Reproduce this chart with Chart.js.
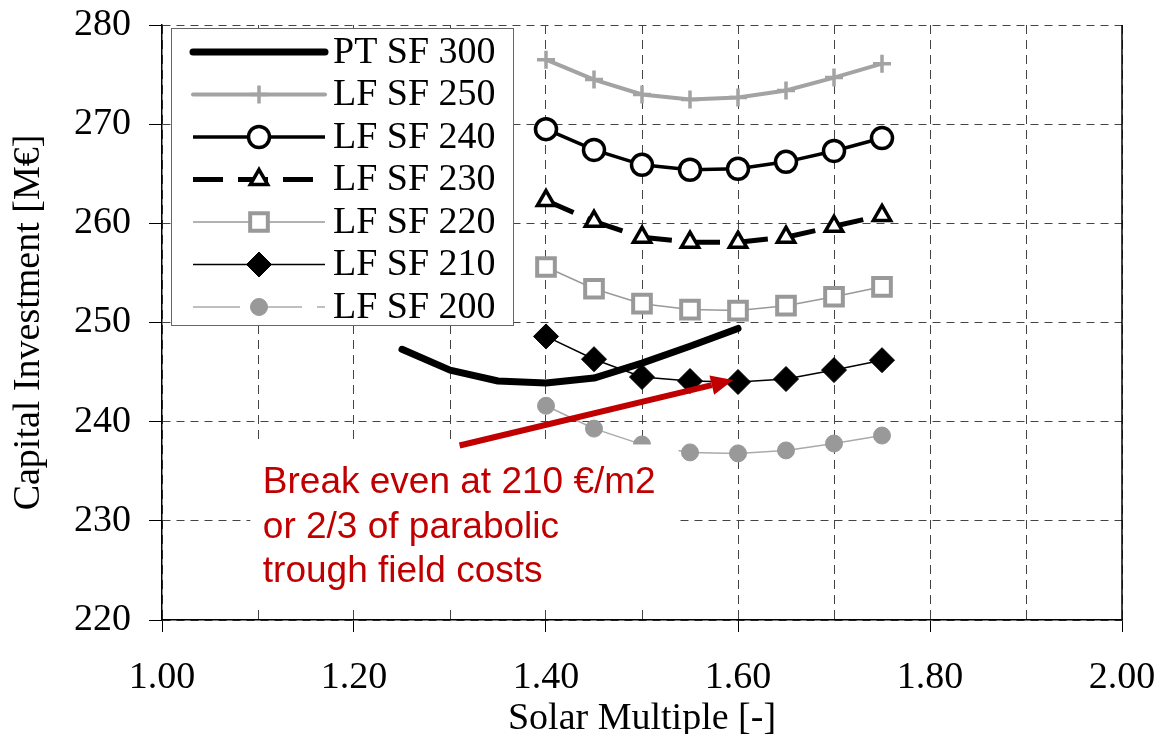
<!DOCTYPE html>
<html>
<head>
<meta charset="utf-8">
<script src="https://cdn.jsdelivr.net/npm/chart.js"></script>
<style>
  body { margin: 0; background: #fff; }
  canvas { display: block; }
</style>
</head>
<body>
<canvas id="smChart" width="1160" height="734"></canvas>
<script>
// solar multiple values
const smPT = [1.25, 1.30, 1.35, 1.40, 1.45, 1.50, 1.55, 1.60];
const smLF = [1.40, 1.45, 1.50, 1.55, 1.60, 1.65, 1.70, 1.75];

// capital investment [M€]
const pt300 = [247.3, 245.2, 244.1, 243.9, 244.4, 245.9, 247.6, 249.4];
const lf250 = [276.5, 274.5, 273.0, 272.5, 272.7, 273.4, 274.7, 276.1];
const lf240 = [269.5, 267.4, 265.9, 265.4, 265.5, 266.2, 267.3, 268.6];
const lf230 = [262.3, 260.2, 258.6, 258.1, 258.1, 258.6, 259.7, 260.8];
const lf220 = [255.6, 253.4, 251.9, 251.3, 251.2, 251.7, 252.6, 253.6];
const lf210 = [248.6, 246.3, 244.5, 244.1, 244.0, 244.3, 245.2, 246.2];
const lf200 = [241.6, 239.3, 237.7, 236.9, 236.8, 237.1, 237.8, 238.6];

const yTicks = [220, 230, 240, 250, 260, 270, 280];
const xLabels = ['1.00', '1.20', '1.40', '1.60', '1.80', '2.00'];

const noteLines = ['Break even at 210 €/m2', 'or 2/3 of parabolic', 'trough field costs'];

const serif = 'Liberation Serif';
const red = '#c00000';

const pts = (xs, ys) => xs.map((x, i) => ({ x: x, y: ys[i] }));
// Excel restarts the dash pattern on every segment
const restartDash = { borderDashOffset: c => c.p0DataIndex * 0.001 };

const datasets = [
  { label: 'PT SF 300', data: pts(smPT, pt300), borderColor: '#000', borderWidth: 7,
    borderCapStyle: 'round', borderJoinStyle: 'round', pointRadius: 0, legendCap: 'round' },
  { label: 'LF SF 250', data: pts(smLF, lf250), borderColor: '#a3a3a3', borderWidth: 4,
    pointStyle: 'cross', pointRadius: 9, pointBorderWidth: 3.5, pointBorderColor: '#a3a3a3', legendCap: 'round' },
  { label: 'LF SF 240', data: pts(smLF, lf240), borderColor: '#000', borderWidth: 3.5,
    pointStyle: 'circle', pointRadius: 10.5, pointBorderWidth: 3.5, pointBorderColor: '#000', pointBackgroundColor: '#fff' },
  { label: 'LF SF 230', data: pts(smLF, lf230), borderColor: '#000', borderWidth: 5, borderDash: [30, 15],
    segment: restartDash,
    pointStyle: 'triangle', pointRadius: 10, pointBorderWidth: 3.5, pointBorderColor: '#000', pointBackgroundColor: '#fff' },
  { label: 'LF SF 220', data: pts(smLF, lf220), borderColor: '#999', borderWidth: 1.5,
    pointStyle: 'rect', pointRadius: 12.5, pointBorderWidth: 4, pointBorderColor: '#999', pointBackgroundColor: '#fff' },
  { label: 'LF SF 210', data: pts(smLF, lf210), borderColor: '#000', borderWidth: 1.5,
    pointStyle: 'rectRot', pointRadius: 12.5, pointBorderWidth: 1, pointBorderColor: '#000', pointBackgroundColor: '#000' },
  { label: 'LF SF 200', data: pts(smLF, lf200), borderColor: '#aaa', borderWidth: 1.5, borderDash: [47, 15],
    segment: restartDash,
    pointStyle: 'circle', pointRadius: 8.5, pointBorderWidth: 1, pointBorderColor: '#999', pointBackgroundColor: '#999' }
];

// white note box, red note + arrow, legend box inside the plot
const overlay = {
  id: 'overlay',
  afterDatasetsDraw(chart) {
    const { ctx, chartArea: area, scales: { x, y } } = chart;
    ctx.save();

    // right border of the plot
    ctx.strokeStyle = '#000';
    ctx.lineWidth = 1.5;
    ctx.beginPath();
    ctx.moveTo(area.right, area.top);
    ctx.lineTo(area.right, area.bottom);
    ctx.stroke();

    // white background behind note
    ctx.fillStyle = '#fff';
    const bx1 = x.getPixelForValue(1.092), bx2 = x.getPixelForValue(1.538);
    const by1 = y.getPixelForValue(237.7), by2 = y.getPixelForValue(221.3);
    ctx.fillRect(bx1, by1, bx2 - bx1, by2 - by1);

    // note text
    ctx.fillStyle = red;
    ctx.font = '37px "Liberation Sans"';
    ctx.textAlign = 'left';
    ctx.textBaseline = 'alphabetic';
    const tx = x.getPixelForValue(1.105);
    const ty = y.getPixelForValue(232.8);
    noteLines.forEach((line, i) => ctx.fillText(line, tx, ty + i * 44.5));

    // arrow
    const ax1 = x.getPixelForValue(1.31), ay1 = y.getPixelForValue(237.6);
    const ax2 = x.getPixelForValue(1.595), ay2 = y.getPixelForValue(244.2);
    const ang = Math.atan2(ay2 - ay1, ax2 - ax1);
    const headLen = 22, headW = 10;
    const hx = ax2 - headLen * Math.cos(ang), hy = ay2 - headLen * Math.sin(ang);
    ctx.strokeStyle = red;
    ctx.lineWidth = 6;
    ctx.beginPath();
    ctx.moveTo(ax1, ay1);
    ctx.lineTo(hx, hy);
    ctx.stroke();
    ctx.beginPath();
    ctx.moveTo(ax2, ay2);
    ctx.lineTo(hx + headW * Math.sin(ang), hy - headW * Math.cos(ang));
    ctx.lineTo(hx - headW * Math.sin(ang), hy + headW * Math.cos(ang));
    ctx.closePath();
    ctx.fill();

    // legend
    const lx = area.left + 9, ly = area.top + 3, lw = 342, lh = 297;
    ctx.fillStyle = '#fff';
    ctx.fillRect(lx, ly, lw, lh);
    ctx.strokeStyle = '#666';
    ctx.lineWidth = 1;
    ctx.strokeRect(lx + 0.5, ly + 0.5, lw, lh);

    const rowH = 42.5;
    chart.data.datasets.forEach((ds, i) => {
      const cy = ly + 24 + i * rowH;
      const x1 = lx + 22, x2 = lx + 154, mx = (x1 + x2) / 2;
      ctx.save();
      ctx.strokeStyle = ds.borderColor;
      ctx.lineWidth = ds.borderWidth;
      ctx.lineCap = ds.legendCap || 'butt';
      ctx.setLineDash(ds.borderDash || []);
      ctx.beginPath();
      ctx.moveTo(x1, cy);
      ctx.lineTo(x2, cy);
      ctx.stroke();
      ctx.restore();
      if (ds.pointRadius > 0) {
        ctx.save();
        ctx.fillStyle = ds.pointBackgroundColor || ds.borderColor;
        ctx.strokeStyle = ds.pointBorderColor;
        ctx.lineWidth = ds.pointBorderWidth;
        Chart.helpers.drawPoint(ctx, {
          pointStyle: ds.pointStyle, radius: ds.pointRadius, rotation: 0, borderWidth: ds.pointBorderWidth
        }, mx, cy);
        ctx.restore();
      }
      ctx.fillStyle = '#000';
      ctx.font = '38px "' + serif + '"';
      ctx.textBaseline = 'middle';
      ctx.fillText(ds.label, lx + 162, cy + 1);
    });

    ctx.restore();
  }
};

const isMajor = v => Math.round(v * 10) % 2 === 0;
const axisFont = { family: serif, size: 38, lineHeight: 1 };

new Chart(document.getElementById('smChart').getContext('2d'), {
  type: 'line',
  data: { datasets },
  options: {
    responsive: false,
    animation: false,
    devicePixelRatio: 1,
    layout: { padding: { top: 25, right: 38, left: 0, bottom: 0 } },
    plugins: { legend: { display: false }, tooltip: { enabled: false } },
    scales: {
      x: {
        type: 'linear', min: 1, max: 2,
        afterFit: s => { s.height = 114; s.paddingLeft = 0; s.paddingRight = 0; },
        ticks: {
          stepSize: 0.1, autoSkip: false, maxRotation: 0, padding: 27, color: '#000', font: axisFont,
          callback: v => isMajor(v) ? xLabels[Math.round((v - 1) * 5)] : ''
        },
        grid: {
          color: '#444', lineWidth: 1, tickLength: 12,
          tickColor: c => (c.tick && isMajor(c.tick.value)) ? '#000' : 'rgba(0,0,0,0)'
        },
        border: { display: true, color: '#000', width: 1.5, dash: [9, 6] },
        title: { display: true, text: 'Solar Multiple [-]', color: '#000', font: axisFont, padding: { top: 0, bottom: -4 } }
      },
      y: {
        type: 'linear', min: yTicks[0], max: yTicks[yTicks.length - 1],
        afterFit: s => { s.width = 162; s.paddingTop = 0; s.paddingBottom = 0; },
        afterBuildTicks: s => { s.ticks = yTicks.map(v => ({ value: v })); },
        ticks: { padding: 18, color: '#000', font: axisFont },
        grid: { color: '#444', lineWidth: 1, tickLength: 13, tickColor: '#000' },
        border: { display: true, color: '#000', width: 1.5, dash: [8, 6] },
        title: { display: true, text: 'Capital Investment [M€]', color: '#000', font: axisFont, padding: { top: 10, bottom: 0 } }
      }
    }
  },
  plugins: [overlay]
});
</script>
</body>
</html>
